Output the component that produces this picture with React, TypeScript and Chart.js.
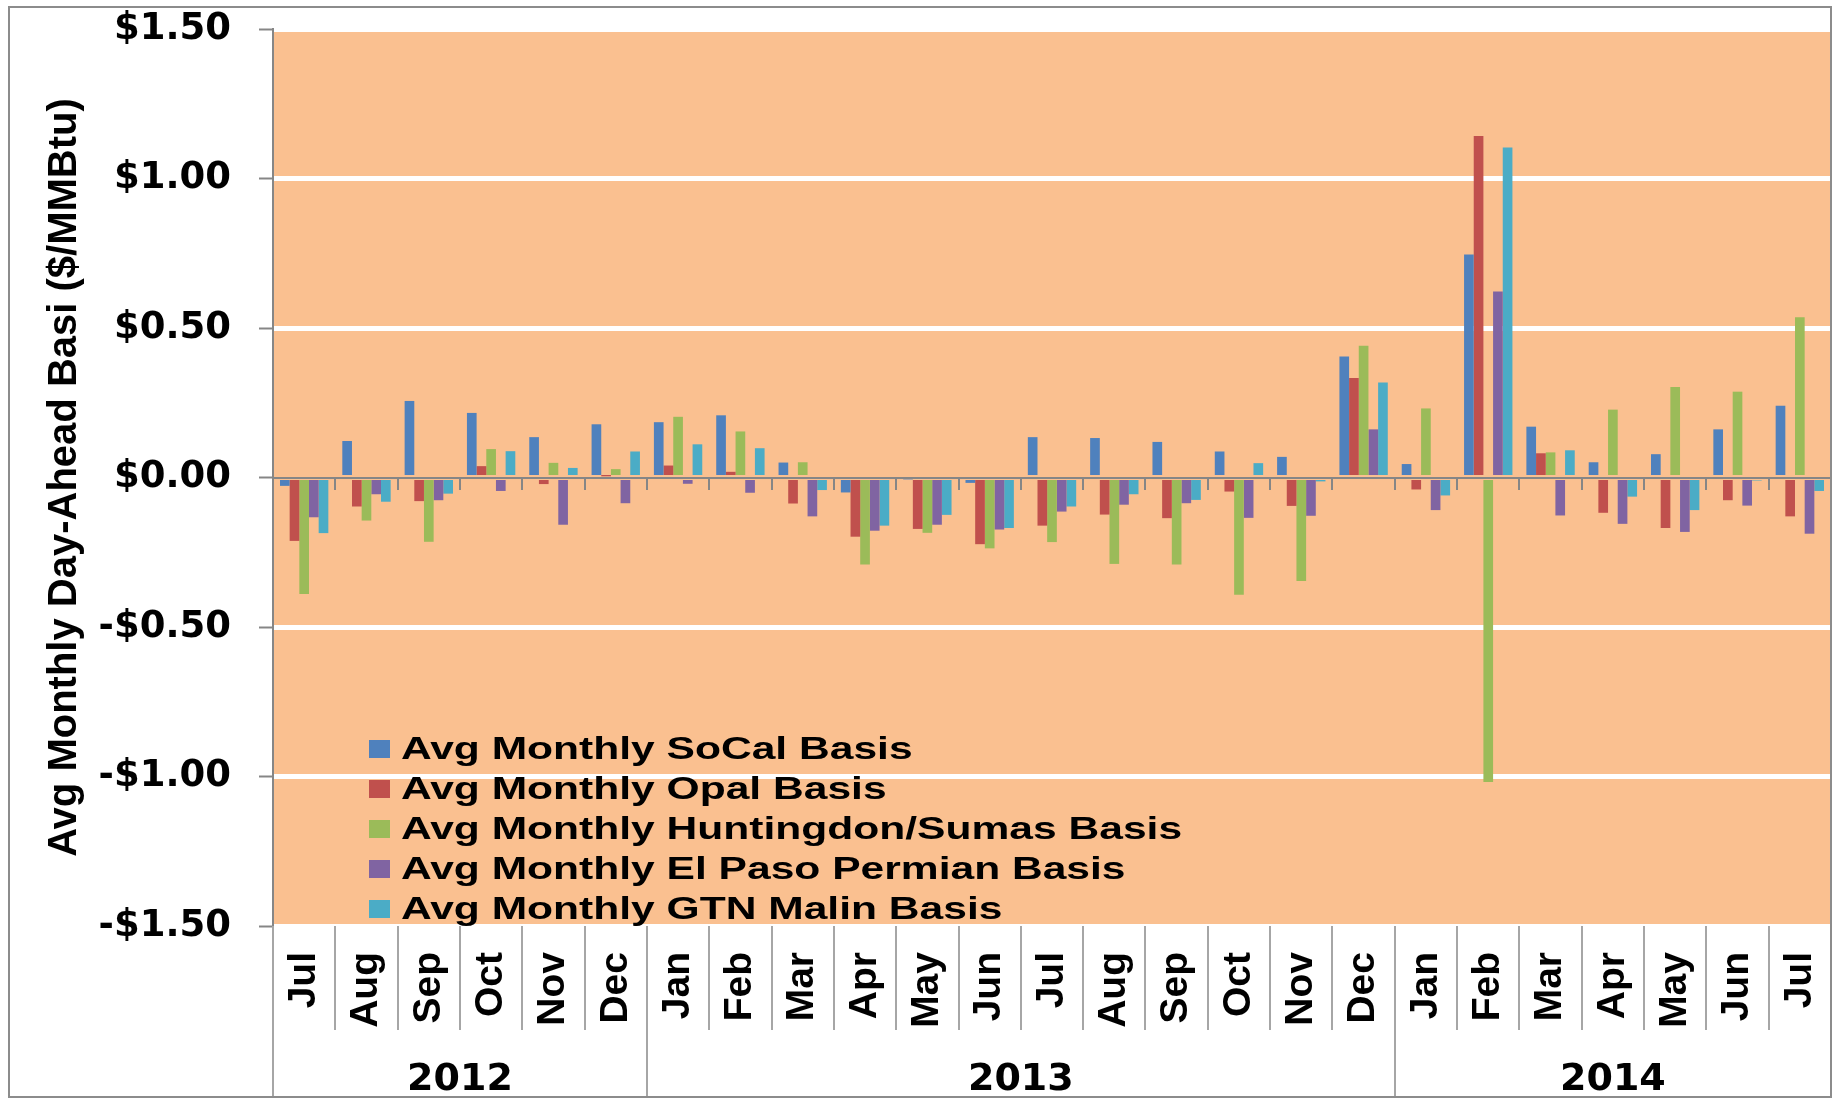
import React, { useEffect, useRef } from "react";
import { Chart, registerables } from "chart.js";

Chart.register(...registerables);

// ---------- data ----------
const months = [
  "Jul", "Aug", "Sep", "Oct", "Nov", "Dec",
  "Jan", "Feb", "Mar", "Apr", "May", "Jun", "Jul", "Aug", "Sep", "Oct", "Nov", "Dec",
  "Jan", "Feb", "Mar", "Apr", "May", "Jun", "Jul",
];
const years = ["2012", "2013", "2014"];
const monthsPerYear = [6, 12, 7];

const socal = [-0.028, 0.122, 0.256, 0.216, 0.135, 0.178, 0.185, 0.208, 0.05, -0.05, -0.007, -0.018, 0.135, 0.132, 0.119, 0.087, 0.069, 0.405, 0.045, 0.746, 0.17, 0.051, 0.078, 0.161, 0.24];
const opal = [-0.212, -0.097, -0.079, 0.038, -0.022, 0.004, 0.04, 0.019, -0.087, -0.198, -0.172, -0.223, -0.161, -0.124, -0.136, -0.047, -0.095, 0.333, -0.04, 1.142, 0.081, -0.118, -0.169, -0.076, -0.13];
const huntingdon = [-0.39, -0.144, -0.215, 0.095, 0.049, 0.028, 0.203, 0.154, 0.051, -0.291, -0.185, -0.237, -0.216, -0.289, -0.291, -0.392, -0.346, 0.441, 0.231, -1.018, 0.084, 0.227, 0.303, 0.287, 0.536];
const elPaso = [-0.133, -0.056, -0.076, -0.045, -0.158, -0.086, -0.021, -0.051, -0.13, -0.178, -0.158, -0.174, -0.114, -0.091, -0.086, -0.135, -0.128, 0.161, -0.109, 0.622, -0.127, -0.155, -0.182, -0.094, -0.188];
const gtnMalin = [-0.186, -0.081, -0.054, 0.088, 0.032, 0.087, 0.111, 0.098, -0.042, -0.161, -0.125, -0.169, -0.097, -0.056, -0.075, 0.048, -0.013, 0.318, -0.06, 1.104, 0.091, -0.064, -0.109, -0.01, -0.045];

const seriesNames = [
  "Avg Monthly SoCal Basis",
  "Avg Monthly Opal Basis",
  "Avg Monthly Huntingdon/Sumas Basis",
  "Avg Monthly El Paso Permian Basis",
  "Avg Monthly GTN Malin Basis",
];
const seriesColors = ["#4F81BD", "#C0504D", "#9BBB59", "#8064A2", "#4BACC6"];
const seriesValues = [socal, opal, huntingdon, elPaso, gtnMalin];

const yTitle = "Avg Monthly Day-Ahead Basi ($/MMBtu)";

// ---------- styles ----------
const W = 1835;
const H = 1099;
const PLOT_BG = "#FAC090";
const AXIS_GRAY = "#868686";
const SEP_GRAY = "#a6a6a6";
const LIB = "'Liberation Sans', Arial, sans-serif";
const DJV = "'DejaVu Sans', sans-serif";

const decorPlugin = {
  id: "decor",
  beforeDraw(chart: any) {
    const { ctx, chartArea: a } = chart;
    ctx.save();
    ctx.fillStyle = "#ffffff";
    ctx.fillRect(0, 0, chart.width, chart.height);
    ctx.fillStyle = PLOT_BG;
    ctx.fillRect(a.left, a.top + 3, a.right - a.left, a.bottom - a.top - 5);
    ctx.restore();
  },
  afterDraw(chart: any) {
    const { ctx, chartArea: a } = chart;
    const xs = chart.scales.x;
    const half = (xs.getPixelForValue(1) - xs.getPixelForValue(0)) / 2;
    ctx.save();
    // year separators + labels
    ctx.strokeStyle = SEP_GRAY;
    ctx.lineWidth = 2;
    let idx = 0;
    const bounds: number[] = [xs.getPixelForValue(0) - half];
    monthsPerYear.forEach((n) => {
      idx += n;
      bounds.push(xs.getPixelForValue(idx - 1) + half);
    });
    bounds.forEach((bx) => {
      ctx.beginPath();
      ctx.moveTo(Math.round(bx), a.bottom);
      ctx.lineTo(Math.round(bx), 1097);
      ctx.stroke();
    });
    ctx.fillStyle = "#000";
    ctx.font = `bold 38px ${DJV}`;
    ctx.textAlign = "center";
    ctx.textBaseline = "alphabetic";
    years.forEach((yr, i) => {
      const cx = (bounds[i] + bounds[i + 1]) / 2;
      ctx.fillText(yr, cx, 1090);
    });

    // legend
    const sx = 1.33;
    chart.data.datasets.forEach((ds: any, i: number) => {
      const cy = 749 + i * 40;
      ctx.fillStyle = ds.backgroundColor;
      ctx.fillRect(369, cy - 9, 21, 18);
      ctx.save();
      ctx.translate(401, cy);
      ctx.scale(sx, 1);
      ctx.fillStyle = "#000";
      ctx.font = `bold 32px ${LIB}`;
      ctx.textAlign = "left";
      ctx.textBaseline = "middle";
      ctx.fillText(ds.label, 0, 1);
      ctx.restore();
    });

    // outer border
    ctx.strokeStyle = "#8c8c8c";
    ctx.lineWidth = 2;
    ctx.strokeRect(9, 7, 1822, 1090);
    ctx.restore();
  },
};

export default function App() {
  const ref = useRef<HTMLCanvasElement | null>(null);

  useEffect(() => {
    if (!ref.current) return;
    const chart = new Chart(ref.current, {
      type: "bar",
      data: {
        labels: months,
        datasets: seriesNames.map((name, i) => ({
          label: name,
          data: seriesValues[i],
          backgroundColor: seriesColors[i],
          borderWidth: 0,
          barPercentage: 1,
          categoryPercentage: 0.776,
          xAxisID: "x",
          yAxisID: "y",
        })),
      },
      options: {
        responsive: false,
        maintainAspectRatio: false,
        devicePixelRatio: 1,
        animation: false,
        layout: { padding: { left: 0, top: 29, right: 4, bottom: 0 } },
        plugins: {
          legend: { display: false },
          tooltip: { enabled: false },
        },
        scales: {
          x: {
            type: "category",
            position: "bottom",
            offset: true,
            grid: {
              offset: true,
              drawOnChartArea: false,
              drawTicks: true,
              tickLength: 104,
              color: SEP_GRAY,
              tickColor: SEP_GRAY,
              lineWidth: 2,
              tickWidth: 2,
            },
            border: { display: false },
            ticks: {
              autoSkip: false,
              minRotation: 90,
              maxRotation: 90,
              padding: -78,
              color: "#000",
              font: { family: LIB, size: 39, weight: "bold" },
            },
            afterFit: (s: any) => {
              s.height = 173;
              s.paddingLeft = 0;
              s.paddingRight = 0;
            },
          },
          x2: {
            type: "category",
            axis: "x",
            position: { y: 0 },
            offset: true,
            z: 1,
            grid: {
              offset: true,
              drawOnChartArea: false,
              drawTicks: true,
              tickLength: 11,
              color: AXIS_GRAY,
              tickColor: AXIS_GRAY,
              lineWidth: 2,
              tickWidth: 2,
            },
            border: { display: true, color: AXIS_GRAY, width: 2 },
            ticks: { display: false },
          },
          y: {
            type: "linear",
            position: "left",
            min: -1.5,
            max: 1.5,
            ticks: {
              stepSize: 0.5,
              padding: 28,
              color: "#000",
              font: { family: DJV, size: 37, weight: "bold" },
              callback: (v: any) => {
                const n = Number(v);
                return (n < 0 ? "-" : "") + "$" + Math.abs(n).toFixed(2);
              },
            },
            grid: {
              color: (c: any) => {
                const v = c.tick ? c.tick.value : 0;
                return v !== 0 && Math.abs(v) < 1.4 ? "#ffffff" : "rgba(0,0,0,0)";
              },
              lineWidth: 5,
              tickColor: AXIS_GRAY,
              tickWidth: 2,
              tickLength: 14,
            },
            border: { display: true, color: AXIS_GRAY, width: 2 },
            title: {
              display: true,
              text: yTitle,
              color: "#000",
              font: { family: LIB, size: 40, weight: "bold" },
              padding: { top: 41, bottom: 0 },
            },
            afterFit: (s: any) => {
              s.width = 273;
              s.paddingTop = 0;
              s.paddingBottom = 0;
            },
          },
        },
      } as any,
      plugins: [decorPlugin],
    });
    return () => chart.destroy();
  }, []);

  return (
    <div style={{ position: "fixed", left: 0, top: 0, width: W, height: H, background: "#fff" }}>
      <canvas ref={ref} width={W} height={H} style={{ display: "block", width: W, height: H }} />
    </div>
  );
}
